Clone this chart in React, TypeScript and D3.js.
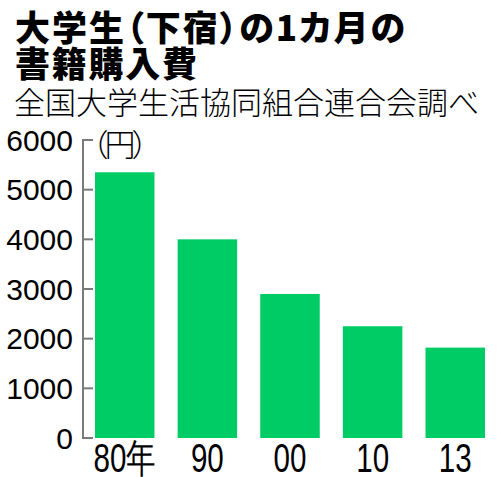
import React from "react";
import { scaleBand, scaleLinear } from "d3";

const categories = ["80年", "90", "00", "10", "13"];
const values = [5350, 4000, 2900, 2250, 1820];
const yTicks = [0, 1000, 2000, 3000, 4000, 5000, 6000];

const W = 500;
const H = 477;

const App = () => {
  const x = scaleBand<string>().domain(categories).range([95, 485]).paddingInner(0.28).paddingOuter(0);
  const y = scaleLinear().domain([0, 6000]).range([438, 140]);

  return (
    <div style={{ position: "absolute", left: 0, top: 0 }}>
      <svg width={W} height={H} style={{ display: "block", background: "#fff" }}>
        {/* title */}
        <g fontFamily="'Noto Sans CJK JP', sans-serif" fill="#000">
          <text x={15} y={41} fontSize={35} fontWeight={900} textLength={390} lengthAdjust="spacing"
            style={{ fontFeatureSettings: "'palt'" }}>大学生（下宿）の1カ月の</text>
          <text x={15} y={77} fontSize={35} fontWeight={900} textLength={182} lengthAdjust="spacing">書籍購入費</text>
          <text x={14} y={114} fontSize={31} fontWeight={300}>全国大学生活協同組合連合会調べ</text>
          <text x={92} y={156} fontSize={31} fontWeight={300} letterSpacing={-3}
            style={{ fontFeatureSettings: "'palt'" }}>（円）</text>
        </g>

        {/* bars */}
        {values.map((v, i) => (
          <rect
            key={categories[i]}
            x={x(categories[i])}
            y={y(v)}
            width={x.bandwidth()}
            height={y(0) - y(v)}
            fill="#00cc66"
          />
        ))}

        {/* y axis */}
        <g stroke="#7a7a7a" strokeWidth={2}>
          <line x1={83} x2={83} y1={y(6000) - 1} y2={y(0) + 1} />
          {yTicks.map((t) => (
            <line key={t} x1={83} x2={93} y1={y(t)} y2={y(t)} />
          ))}
        </g>
        <g fontFamily="'Liberation Sans', sans-serif" fontSize={30} fill="#000" textAnchor="end">
          {yTicks.map((t) => (
            <text key={t} x={73} y={y(t) + 10.7}>{t}</text>
          ))}
        </g>

        {/* x labels */}
        <g fontFamily="'Liberation Sans', sans-serif" fontSize={40} fill="#000" textAnchor="middle">
          {categories.map((c) => (
            <text key={c} transform={`translate(${(x(c) ?? 0) + x.bandwidth() / 2},472) scale(0.74,1)`}>
              {c}
            </text>
          ))}
        </g>
      </svg>
    </div>
  );
};

export default App;
